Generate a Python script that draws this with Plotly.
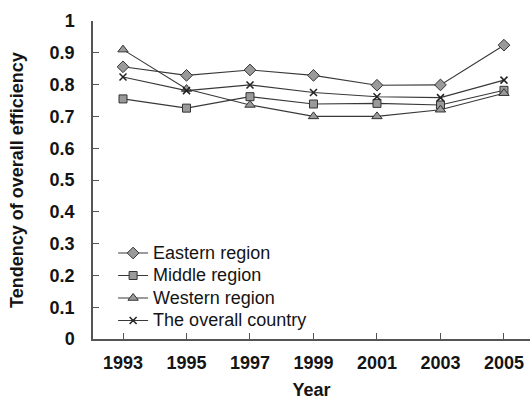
import plotly.graph_objects as go

years = [1993, 1995, 1997, 1999, 2001, 2003, 2005]
eastern = [0.856, 0.829, 0.846, 0.829, 0.798, 0.799, 0.924]
middle = [0.755, 0.726, 0.762, 0.739, 0.741, 0.736, 0.782]
western = [0.910, 0.786, 0.736, 0.700, 0.700, 0.721, 0.773]
overall = [0.824, 0.781, 0.799, 0.775, 0.762, 0.759, 0.814]
y_ticks = [0, 0.1, 0.2, 0.3, 0.4, 0.5, 0.6, 0.7, 0.8, 0.9, 1]
y_tick_labels = ["0", "0.1", "0.2", "0.3", "0.4", "0.5", "0.6", "0.7", "0.8", "0.9", "1"]

line_col = "#383838"
fill_col = "#9a9a9a"
text_col = "#141414"
font_fam = "Liberation Sans, Arial, sans-serif"

fig = go.Figure()
series = [
    ("Eastern region", eastern, "diamond", 9),
    ("Middle region", middle, "square", 8),
    ("Western region", western, "triangle-up", 9),
    ("The overall country", overall, "x-thin", 7),
]
for name, vals, sym, size in series:
    marker = dict(symbol=sym, size=size, color=fill_col,
                  line=dict(color="#333333", width=1))
    if sym == "x-thin":
        marker = dict(symbol=sym, size=size, color="#222222",
                      line=dict(color="#222222", width=1.5))
    fig.add_trace(go.Scatter(x=years, y=vals,
                             name='<span style="font-size:18px">' + name + '</span>',
                             mode="lines+markers",
                             line=dict(color=line_col, width=1.1), marker=marker))

fig.update_layout(
    width=531, height=400,
    margin=dict(l=93, r=1, t=21, b=61),
    paper_bgcolor="white", plot_bgcolor="white",
    font=dict(family=font_fam, color=text_col),
    showlegend=True,
    legend=dict(x=0.046, y=0.3215, xanchor="left", yanchor="top",
                bgcolor="rgba(0,0,0,0)", font=dict(size=15, color=text_col),
                tracegroupgap=0, itemwidth=30),
    xaxis=dict(range=[1992.055, 2005.82], tickvals=years, ticktext=[str(y) for y in years],
               ticks="inside", ticklen=6, tickcolor="#555", showline=True,
               linecolor="#555", linewidth=1.5, showgrid=False, zeroline=False,
               automargin=False, ticklabelstandoff=7,
               tickfont=dict(size=18, family=font_fam, color=text_col, weight="bold"),
               title=dict(text="<b>Year</b>", font=dict(size=18), standoff=17)),
    yaxis=dict(range=[0, 1], tickvals=y_ticks, ticktext=y_tick_labels,
               ticks="inside", ticklen=6, tickcolor="#555", showline=True,
               linecolor="#555", linewidth=1.5, showgrid=False, zeroline=False,
               automargin=False, ticklabelstandoff=13,
               tickfont=dict(size=18, family=font_fam, color=text_col, weight="bold"),
               title=dict(text="<b>Tendency of overall efficiency</b>", font=dict(size=18), standoff=21)),
)

fig.write_html("out.html", config={"displayModeBar": False},
               post_script="document.body.style.margin='0';")
